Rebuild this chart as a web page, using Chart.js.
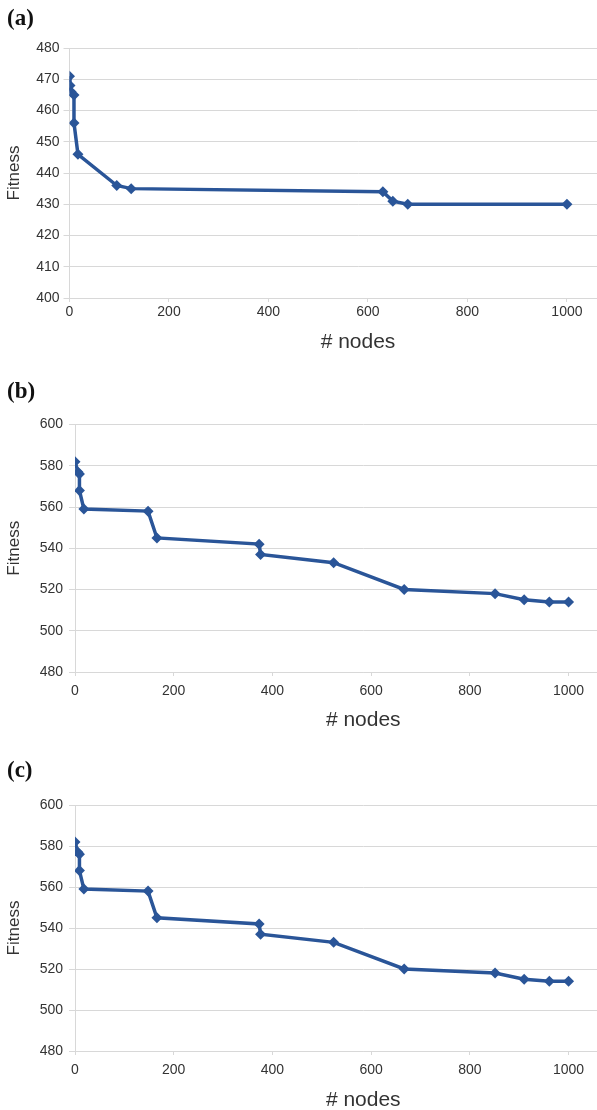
<!DOCTYPE html>
<html>
<head>
<meta charset="utf-8">
<script src="https://cdn.jsdelivr.net/npm/chart.js@4.4.1/dist/chart.umd.min.js"></script>
<style>
  html, body { margin: 0; padding: 0; background: #fff; }
  #page { position: relative; width: 597px; height: 1110px; overflow: hidden; }
  .panel { position: absolute; left: 0; }
  .tag { position: absolute; left: 7px; font: bold 23px "Liberation Serif", serif; line-height: 23px; color: #111; }
</style>
</head>
<body>
<div id="page">
  <div class="panel" style="top:0"><canvas id="chartA" width="652" height="360"></canvas></div>
  <div class="panel" style="top:360px"><canvas id="chartB" width="657" height="374"></canvas></div>
  <div class="panel" style="top:740px"><canvas id="chartC" width="657" height="374"></canvas></div>
  <div class="tag" style="top:6px">(a)</div>
  <div class="tag" style="top:379px">(b)</div>
  <div class="tag" style="top:758px">(c)</div>
</div>
<script>
// (a) values
const nodesA = [0, 1, 3, 9, 9, 17, 95, 124, 630, 650, 680, 1000];
const fitnessA = [471, 468, 466, 465, 456, 446, 436, 435, 434, 431, 430, 430];

// (b)
const nodesB = [0, 6, 9, 9, 18, 148, 166, 373, 376, 524, 667, 851, 910, 961, 1000];
const fitnessB = [582, 577, 576, 568, 559, 558, 545, 542, 537, 533, 520, 518, 515, 514, 514];

// (c)
const nodesC = [0, 6, 9, 9, 18, 148, 166, 373, 376, 524, 667, 851, 910, 961, 1000];
const fitnessC = [582, 577, 576, 568, 559, 558, 545, 542, 537, 533, 520, 518, 515, 514, 514];

// tick labels
const xTicks = [0, 200, 400, 600, 800, 1000];
const yTicksA = [400, 410, 420, 430, 440, 450, 460, 470, 480];
const yTicksBC = [480, 500, 520, 540, 560, 580, 600];

const xTitle = "# nodes";
const yTitle = "Fitness";

const lineColor = "#2a5598";
const gridColor = "#d8d8d8";
const tickColor = "#333";
const fontFamily = "'Liberation Sans', Arial, sans-serif";

function makeChart(id, xs, ys, yTicks, o) {
  const ctx = document.getElementById(id);
  new Chart(ctx, {
    type: "line",
    data: {
      datasets: [
        {
          data: xs.map((x, i) => ({ x: x, y: ys[i] })),
          borderColor: lineColor,
          backgroundColor: lineColor,
          borderWidth: 3.5,
          tension: 0,
          pointStyle: "rectRot",
          pointRadius: 5.5,
          pointBorderWidth: 0,
        },
      ],
    },
    options: {
      responsive: false,
      animation: false,
      layout: { padding: { top: o.padTop, left: 0, right: 0, bottom: 0 } },
      plugins: { legend: { display: false }, tooltip: { enabled: false } },
      scales: {
        x: {
          type: "linear",
          min: 0,
          max: o.xMax,
          afterBuildTicks: (s) => { s.ticks = xTicks.map((v) => ({ value: v })); },
          ticks: {
            color: tickColor,
            padding: o.xPad,
            font: { family: fontFamily, size: 14 },
            callback: (v) => String(v),
          },
          grid: { drawOnChartArea: false, drawTicks: true, tickLength: 4, color: gridColor },
          border: { color: gridColor },
          title: {
            display: true,
            text: xTitle,
            color: "#333",
            font: { family: fontFamily, size: 21 },
            padding: { top: 0, bottom: o.xTitlePad },
          },
          afterFit: (s) => { s.height = o.xH; },
        },
        y: {
          min: yTicks[0],
          max: yTicks[yTicks.length - 1],
          afterBuildTicks: (s) => { s.ticks = yTicks.map((v) => ({ value: v })); },
          ticks: {
            color: tickColor,
            padding: o.yPad,
            font: { family: fontFamily, size: 14 },
            callback: (v) => String(v),
          },
          grid: { color: gridColor, tickLength: 6 },
          border: { color: gridColor },
          title: {
            display: true,
            text: yTitle,
            color: "#333",
            font: { family: fontFamily, size: 17 },
            padding: { top: 4, bottom: 0 },
          },
          afterFit: (s) => { s.width = o.yW; },
        },
      },
    },
  });
}

makeChart("chartA", nodesA, fitnessA, yTicksA, {
  padTop: 48, xH: 62, yW: 69.5, xMax: 1160, xPad: 2, yPad: 4, xTitlePad: 5,
});
makeChart("chartB", nodesB, fitnessB, yTicksBC, {
  padTop: 64.5, xH: 62, yW: 75, xMax: 1168, xPad: 7, yPad: 6, xTitlePad: 1,
});
makeChart("chartC", nodesC, fitnessC, yTicksBC, {
  padTop: 65, xH: 63, yW: 75, xMax: 1168, xPad: 7, yPad: 6, xTitlePad: 1,
});
</script>
</body>
</html>
